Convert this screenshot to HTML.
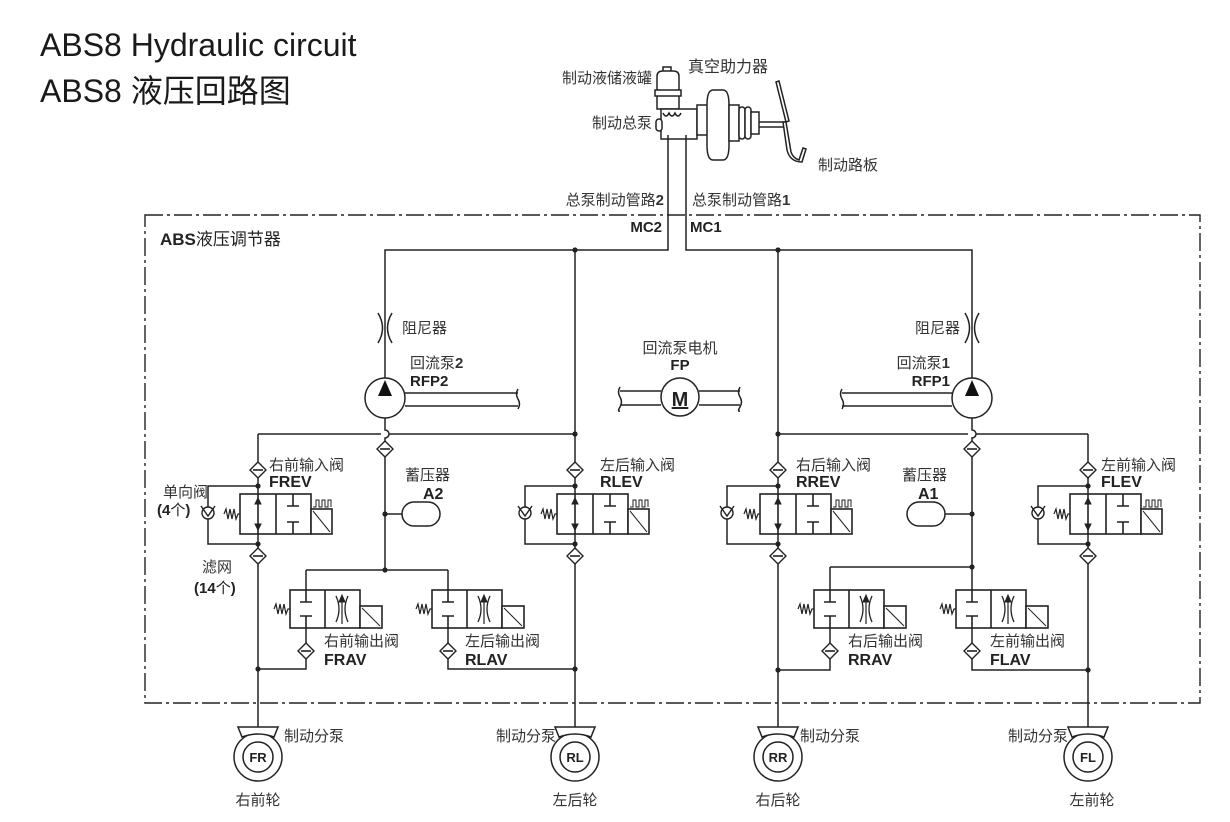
<!DOCTYPE html>
<html><head><meta charset="utf-8"><style>
html,body{margin:0;padding:0;background:#fff;}
svg{display:block;}
text{font-family:"Liberation Sans","Noto Sans CJK SC",sans-serif;fill:#222;}
.cn{font-size:15px;fill:#333;}
.b{font-size:15px;font-weight:bold;}
</style></head><body>
<svg width="1230" height="822" viewBox="0 0 1230 822" xmlns="http://www.w3.org/2000/svg">
<defs>
<g id="flt"><path d="M0,-8 L8,0 L0,8 L-8,0Z" fill="#fff" stroke="#222" stroke-width="1.4"/><line x1="-5" y1="0" x2="5" y2="0" stroke="#222" stroke-width="1.6"/></g>
<g id="dot"><circle r="2.6" fill="#222"/></g>
<g id="chk"><circle r="6" fill="#fff" stroke="#222" stroke-width="1.4"/><path d="M-7,-7 L0,3 L7,-7" fill="none" stroke="#222" stroke-width="1.4"/></g>
<path id="spring" d="M-16,0 l2,-5 l2,10 l2,-10 l2,10 l2,-10 l2,10 l2,-5 h2" fill="none" stroke="#222" stroke-width="1.2"/>
<!-- inlet valve, column at x=0, top y=0 -->
<g id="inv" stroke="#222" stroke-width="1.6" fill="none">
<rect x="-18" y="0" width="71" height="40" fill="#fff"/>
<line x1="18" y1="0" x2="18" y2="40"/>
<rect x="53" y="15" width="21" height="25" fill="#fff"/>
<line x1="55" y1="17" x2="72" y2="38" stroke-width="1"/>
<path d="M55,13 h3 v-7 h3 v7 h3 v-7 h3 v7 h3 v-7 h3 v7" stroke-width="1"/>
<line x1="0" y1="0" x2="0" y2="40"/>
<path d="M-3,10 L0,4 L3,10Z M-3,30 L0,36 L3,30Z" fill="#222" stroke-width="1"/>
<path d="M35,0 v12 M29,12 h12 M35,40 v-12 M29,28 h12"/>
<use href="#spring" x="-18" y="20"/>
</g>
<!-- outlet valve, column at 0, top y=0 -->
<g id="outv" stroke="#222" stroke-width="1.6" fill="none">
<rect x="-16" y="0" width="70" height="38" fill="#fff"/>
<line x1="19" y1="0" x2="19" y2="38"/>
<rect x="54" y="16" width="22" height="22" fill="#fff"/>
<line x1="56" y1="18" x2="74" y2="36" stroke-width="1"/>
<path d="M0,0 v12 M-6,12 h12 M0,38 v-12 M-6,26 h12"/>
<path d="M30,6 q6,13 0,26 M42,6 q-6,13 0,26" stroke-width="1.3"/>
<line x1="36" y1="34" x2="36" y2="6" stroke-width="1.2"/>
<path d="M33,12 L36,5 L39,12Z" fill="#222" stroke-width="1"/>
<use href="#spring" x="-16" y="19"/>
</g>
<g id="wheel" stroke="#222" stroke-width="1.5" fill="#fff">
<circle r="24"/><circle r="15"/>
<path d="M-16,-20 L-20,-30 L20,-30 L16,-20 Q0,-26 -16,-20Z"/>
</g>
</defs>

<!-- titles -->
<text x="40" y="56" style="font-size:32px;fill:#1a1a1a">ABS8 Hydraulic circuit</text>
<text x="40" y="102" style="font-size:32px;fill:#1a1a1a">ABS8 液压回路图</text>

<!-- dashed box -->
<rect x="145" y="215" width="1055" height="488" fill="none" stroke="#222" stroke-width="1.4" stroke-dasharray="18,4,3,4"/>
<text x="160" y="245" style="font-size:17px;font-weight:bold">ABS<tspan style="font-weight:normal;font-size:17px">液压调节器</tspan></text>

<!-- master cylinder / booster -->
<g stroke="#222" stroke-width="1.5" fill="#fff">
<rect x="663" y="67" width="8" height="5"/>
<path d="M657,76 q0,-5 6,-5 h10 q6,0 6,5 v33 h-22z"/>
<rect x="655" y="90" width="26" height="6"/>
<rect x="661" y="109" width="36" height="30"/>
<path d="M663,113 q3,6 6,0 q3,6 6,0 q3,6 6,0"/>
<rect x="656" y="119" width="6" height="12" rx="3"/>
<rect x="697" y="105" width="12" height="30"/>
<path d="M713,90 q-6,0 -6,15 v40 q0,15 6,15 h10 q6,0 6,-15 v-40 q0,-15 -6,-15z"/>
<rect x="729" y="105" width="10" height="36"/>
<rect x="739" y="107" width="6" height="32" rx="3"/>
<rect x="745" y="107" width="6" height="32" rx="3"/>
<rect x="751" y="112" width="8" height="22"/>
<line x1="759" y1="122" x2="785" y2="122"/>
<line x1="759" y1="127" x2="785" y2="127"/>
<path d="M776,82 l3,-1 l10,40 l-3,1z M786,122 l5,30 q2,6 8,8 l4,-12 l3,1 l-4,13 q-12,0 -15,-12 l-4,-28z"/>
</g>
<text x="652" y="83" class="cn" text-anchor="end">制动液储液罐</text>
<text x="688" y="72" class="cn" style="font-size:16px">真空助力器</text>
<text x="652" y="128" class="cn" text-anchor="end">制动总泵</text>
<text x="818" y="170" class="cn">制动路板</text>
<text x="664" y="205" class="cn" text-anchor="end">总泵制动管路<tspan font-weight="bold">2</tspan></text>
<text x="692" y="205" class="cn">总泵制动管路<tspan font-weight="bold">1</tspan></text>
<text x="662" y="232" class="b" text-anchor="end">MC2</text>
<text x="690" y="232" class="b">MC1</text>

<g stroke="#222" stroke-width="1.5" fill="none">
<path d="M668,135 V250 H385 V378"/>
<path d="M686,135 V250 H972 V378"/>
<path d="M385,418 V430 a4,4 0 0 1 0,8 V570"/>
<path d="M972,418 V430 a4,4 0 0 1 0,8 V567"/>
<path d="M258,434 H381 M389,434 H575"/>
<path d="M778,434 H968 M976,434 H1088"/>
<path d="M575,250 V728"/>
<path d="M778,250 V728"/>
<path d="M258,434 V728"/>
<path d="M1088,434 V728"/>
<path d="M258,486 H208 V544 H258"/>
<path d="M575,486 H525 V544 H575"/>
<path d="M778,486 H727 V544 H778"/>
<path d="M1088,486 H1038 V544 H1088"/>
<path d="M385,514 H402"/>
<rect x="402" y="502" width="38" height="24" rx="12" fill="#fff"/>
<path d="M972,514 H945"/>
<rect x="907" y="502" width="38" height="24" rx="12" fill="#fff"/>
<path d="M306,570 H448 M306,570 V669 H258 M448,570 V669 H575"/>
<path d="M830,567 H972 M830,567 V670 H778 M972,567 V670 H1088"/>
<path d="M405,393 H518 M405,406 H518 M518,389 q-3,5 0,10 q3,5 0,10"/>
<path d="M952,393 H842 M952,406 H842 M842,389 q-3,5 0,10 q3,5 0,10"/>
<path d="M620,391 H661 M620,405 H661 M620,387 q-3,5 0,10 q3,5 0,10 q-3,5 0,4"/>
<path d="M699,391 H740 M699,405 H740 M740,387 q-3,5 0,10 q3,5 0,10 q-3,5 0,4"/>
<path d="M378,313 q9,15 0,30 M392,313 q-9,15 0,30"/>
<path d="M965,313 q9,15 0,30 M979,313 q-9,15 0,30"/>
</g>
<g stroke="#222" stroke-width="1.5" fill="#fff">
<circle cx="385" cy="398" r="20"/>
<circle cx="972" cy="398" r="20"/>
<circle cx="680" cy="397" r="19"/>
</g>
<path d="M385,380 L378,396 L392,396Z M972,380 L965,396 L979,396Z" fill="#111"/>
<text x="680" y="406" text-anchor="middle" style="font-size:20px;font-weight:bold;text-decoration:underline">M</text>

<use href="#inv" x="258" y="494"/>
<use href="#inv" x="575" y="494"/>
<use href="#inv" x="778" y="494"/>
<use href="#inv" x="1088" y="494"/>
<use href="#outv" x="306" y="590"/>
<use href="#outv" x="448" y="590"/>
<use href="#outv" x="830" y="590"/>
<use href="#outv" x="972" y="590"/>
<use href="#chk" x="208" y="513"/>
<use href="#chk" x="525" y="513"/>
<use href="#chk" x="727" y="513"/>
<use href="#chk" x="1038" y="513"/>
<use href="#flt" x="385" y="449"/><use href="#flt" x="972" y="449"/>
<use href="#flt" x="258" y="470"/><use href="#flt" x="258" y="556"/>
<use href="#flt" x="575" y="470"/><use href="#flt" x="575" y="556"/>
<use href="#flt" x="778" y="470"/><use href="#flt" x="778" y="556"/>
<use href="#flt" x="1088" y="470"/><use href="#flt" x="1088" y="556"/>
<use href="#flt" x="306" y="651"/><use href="#flt" x="448" y="651"/>
<use href="#flt" x="830" y="651"/><use href="#flt" x="972" y="651"/>
<use href="#dot" x="575" y="250"/><use href="#dot" x="778" y="250"/>
<use href="#dot" x="575" y="434"/><use href="#dot" x="778" y="434"/>
<use href="#dot" x="258" y="486"/><use href="#dot" x="258" y="544"/>
<use href="#dot" x="575" y="486"/><use href="#dot" x="575" y="544"/>
<use href="#dot" x="778" y="486"/><use href="#dot" x="778" y="544"/>
<use href="#dot" x="1088" y="486"/><use href="#dot" x="1088" y="544"/>
<use href="#dot" x="385" y="514"/><use href="#dot" x="385" y="570"/>
<use href="#dot" x="972" y="514"/><use href="#dot" x="972" y="567"/>
<use href="#dot" x="258" y="669"/><use href="#dot" x="575" y="669"/>
<use href="#dot" x="778" y="670"/><use href="#dot" x="1088" y="670"/>

<text x="402" y="333" class="cn">阻尼器</text>
<text x="960" y="333" class="cn" text-anchor="end">阻尼器</text>
<text x="410" y="368" class="cn">回流泵<tspan font-weight="bold">2</tspan></text>
<text x="410" y="386" class="b">RFP2</text>
<text x="950" y="368" class="cn" text-anchor="end">回流泵<tspan font-weight="bold">1</tspan></text>
<text x="950" y="386" class="b" text-anchor="end">RFP1</text>
<text x="680" y="353" class="cn" text-anchor="middle">回流泵电机</text>
<text x="680" y="370" class="b" text-anchor="middle">FP</text>

<text x="269" y="470" class="cn">右前输入阀</text><text x="269" y="487" class="b" style="font-size:16px">FREV</text>
<text x="600" y="470" class="cn">左后输入阀</text><text x="600" y="487" class="b" style="font-size:16px">RLEV</text>
<text x="796" y="470" class="cn">右后输入阀</text><text x="796" y="487" class="b" style="font-size:16px">RREV</text>
<text x="1101" y="470" class="cn">左前输入阀</text><text x="1101" y="487" class="b" style="font-size:16px">FLEV</text>
<text x="405" y="480" class="cn">蓄压器</text><text x="423" y="499" class="b" style="font-size:16px">A2</text>
<text x="902" y="480" class="cn">蓄压器</text><text x="918" y="499" class="b" style="font-size:16px">A1</text>
<text x="163" y="497" class="cn">单向阀</text><text x="157" y="515" class="b">(4<tspan font-weight="normal">个</tspan>)</text>
<text x="202" y="572" class="cn">滤网</text><text x="194" y="593" class="b">(14<tspan font-weight="normal">个</tspan>)</text>
<text x="324" y="646" class="cn">右前输出阀</text><text x="324" y="665" class="b" style="font-size:16px">FRAV</text>
<text x="465" y="646" class="cn">左后输出阀</text><text x="465" y="665" class="b" style="font-size:16px">RLAV</text>
<text x="848" y="646" class="cn">右后输出阀</text><text x="848" y="665" class="b" style="font-size:16px">RRAV</text>
<text x="990" y="646" class="cn">左前输出阀</text><text x="990" y="665" class="b" style="font-size:16px">FLAV</text>

<use href="#wheel" x="258" y="757"/><use href="#wheel" x="575" y="757"/>
<use href="#wheel" x="778" y="757"/><use href="#wheel" x="1088" y="757"/>
<text x="258" y="762" text-anchor="middle" style="font-size:13px;font-weight:bold">FR</text>
<text x="575" y="762" text-anchor="middle" style="font-size:13px;font-weight:bold">RL</text>
<text x="778" y="762" text-anchor="middle" style="font-size:13px;font-weight:bold">RR</text>
<text x="1088" y="762" text-anchor="middle" style="font-size:13px;font-weight:bold">FL</text>
<text x="284" y="741" class="cn">制动分泵</text>
<text x="556" y="741" class="cn" text-anchor="end">制动分泵</text>
<text x="800" y="741" class="cn">制动分泵</text>
<text x="1068" y="741" class="cn" text-anchor="end">制动分泵</text>
<text x="258" y="805" class="cn" text-anchor="middle">右前轮</text>
<text x="575" y="805" class="cn" text-anchor="middle">左后轮</text>
<text x="778" y="805" class="cn" text-anchor="middle">右后轮</text>
<text x="1092" y="805" class="cn" text-anchor="middle">左前轮</text>
</svg>
</body></html>
